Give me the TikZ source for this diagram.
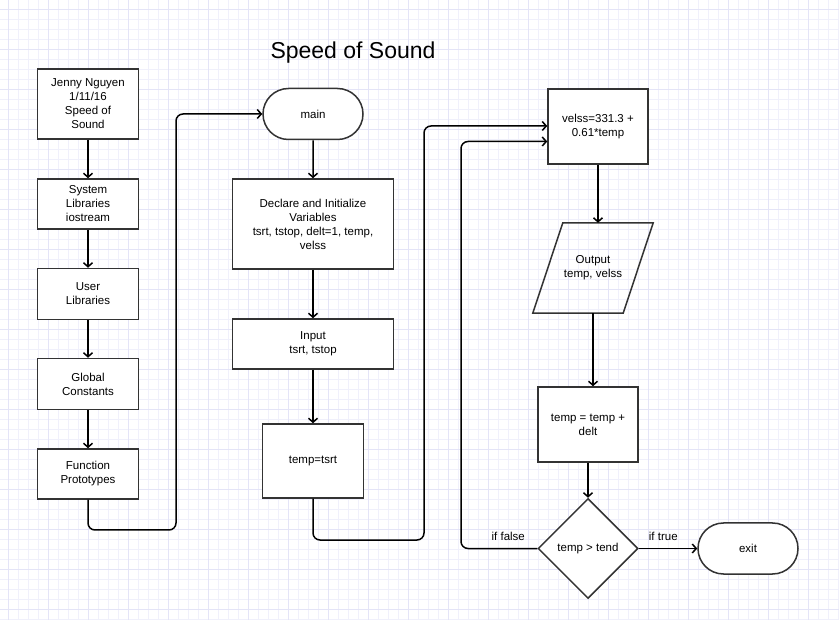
\documentclass[tikz,border=0pt]{standalone}
\usepackage{fontspec}
\setmainfont{Liberation Sans}
\usetikzlibrary{arrows.meta,shapes.geometric,shapes.misc}

\definecolor{gridminor}{HTML}{F0F0FB}
\definecolor{gridmajor}{HTML}{E4E4F7}
\definecolor{edge}{HTML}{333333}

\begin{document}
\begin{tikzpicture}[x=1pt,y=-1pt,
    every node/.style={font=\fontsize{11.5}{14}\selectfont,align=center},
    box/.style={draw=edge,line width=1.5pt,fill=white,inner sep=0pt},
    term/.style={box,rounded rectangle,minimum width=100pt,minimum height=51pt},
    para/.style={inner sep=0pt,minimum width=120pt,minimum height=90pt},
    cond/.style={box,diamond,minimum width=100pt,minimum height=100pt},
    arr/.style={line width=1.5pt,-{Straight Barb[length=4pt,width=9pt]}},
    lbl/.style={font=\fontsize{11.5}{14}\selectfont}]
    \useasboundingbox (0,0) rectangle (839,620);
    \fill[white] (0,0) rectangle (839,620);

    % grid paper
    \foreach \gx in {8,18,...,838}
        \draw[gridminor,line width=0.8pt] (\gx,0) -- (\gx,620);
    \foreach \gy in {9,19,...,619}
        \draw[gridminor,line width=0.8pt] (0,\gy) -- (839,\gy);
    \foreach \gx in {8,48,...,838}
        \draw[gridmajor,line width=0.8pt] (\gx,0) -- (\gx,620);
    \foreach \gy in {9,49,...,619}
        \draw[gridmajor,line width=0.8pt] (0,\gy) -- (839,\gy);

    \node[font=\fontsize{23}{27}\selectfont] (title) at (353,53) {Speed of Sound};

    % left column
    \node[box,minimum width=101pt,minimum height=70pt] (head) at (88,104) {Jenny Nguyen\\1/11/16\\Speed of\\Sound};
    \node[box,minimum width=101pt,minimum height=50pt] (syslib) at (88,204) {System\\Libraries\\iostream};
    \node[box,minimum width=101pt,minimum height=51pt] (usrlib) at (88,294) {User\\Libraries};
    \node[box,minimum width=101pt,minimum height=51pt] (glob) at (88,384) {Global\\Constants};
    \node[box,minimum width=101pt,minimum height=50pt] (proto) at (88,474) {Function\\Prototypes};

    % middle column
    \node[term,minimum width=100pt] (main) at (313,114) {main};
    \node[box,minimum width=161pt,minimum height=90pt] (decl) at (313,224) {Declare and Initialize\\Variables\\tsrt, tstop, delt=1, temp,\\velss};
    \node[box,minimum width=161pt,minimum height=50pt] (input) at (313,344) {Input\\tsrt, tstop};
    \node[box,minimum width=101pt,minimum height=74pt] (init) at (313,461) {temp=tsrt};

    % right column
    \node[box,minimum width=100pt,minimum height=75pt] (velss) at (598,126.5) {velss=331.3 +\\0.61*temp};
    \node[para] (out) at (593,268) {Output\\temp, velss};
    \draw[draw=edge,line width=1.5pt] (out.south west) -- ([xshift=-30pt]out.south east)
        -- (out.north east) -- ([xshift=30pt]out.north west) -- cycle;
    \node[box,minimum width=100pt,minimum height=75pt] (step) at (588,424.5) {temp = temp +\\delt};
    \node[cond] (test) at (588,548.5) {temp > tend};
    \node[term] (exit) at (748,548.5) {exit};

    \draw[arr] (head) -- (syslib);
    \draw[arr] (syslib) -- (usrlib);
    \draw[arr] (usrlib) -- (glob);
    \draw[arr] (glob) -- (proto);
    \draw[arr,rounded corners=7pt] (proto.south) |- (176,530) |- (main.west);

    \draw[arr] (main) -- (decl);
    \draw[arr] (decl) -- (input);
    \draw[arr] (input) -- (init);
    \draw[arr,rounded corners=7pt] (init.south) |- (424,540) |- ([yshift=0.5pt]velss.west);

    \draw[arr] (velss.south) -- ([xshift=5pt]out.north);
    \draw[arr] (out.south) -- (out.south |- step.north);
    \draw[arr] (step) -- (test);
    \draw[arr] (test) -- node[lbl,above=4pt,pos=0.42] {if true} (exit);
    \draw[arr,rounded corners=7pt] (test.west) -- node[lbl,above=4pt,pos=0.38] {if false} (461,548.5) |- ([yshift=-15pt]velss.west);
\end{tikzpicture}
\end{document}
